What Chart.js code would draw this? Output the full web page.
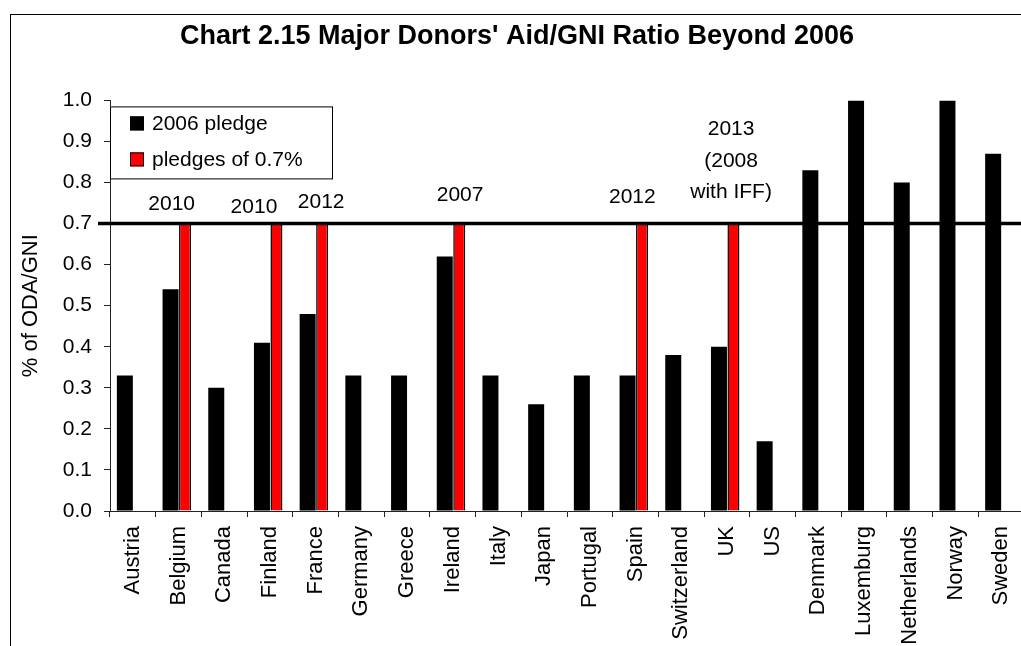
<!DOCTYPE html>
<html>
<head>
<meta charset="utf-8">
<title>Chart 2.15 Major Donors' Aid/GNI Ratio Beyond 2006</title>
<script src="https://cdn.jsdelivr.net/npm/chart.js"></script>
<style>
  html, body { margin: 0; padding: 0; background: #fff; overflow: hidden; }
  #wrap { position: relative; width: 1040px; height: 660px; }
</style>
</head>
<body>
<div id="wrap"><canvas id="chart" width="1040" height="660"></canvas></div>
<script>
// Chart data
const countries = ['Austria', 'Belgium', 'Canada', 'Finland', 'France', 'Germany', 'Greece', 'Ireland', 'Italy', 'Japan',
    'Portugal', 'Spain', 'Switzerland', 'UK', 'US', 'Denmark', 'Luxemburg', 'Netherlands', 'Norway', 'Sweden'];
const pledge2006 = [0.33, 0.54, 0.30, 0.41, 0.48, 0.33, 0.33, 0.62, 0.33, 0.26,
    0.33, 0.33, 0.38, 0.40, 0.17, 0.83, 1.00, 0.80, 1.00, 0.87];
const pledge07 = [null, 0.7, null, 0.7, 0.7, null, null, 0.7, null, null,
    null, 0.7, null, 0.7, null, null, null, null, null, null];
const yTickLabels = ['0.0', '0.1', '0.2', '0.3', '0.4', '0.5', '0.6', '0.7', '0.8', '0.9', '1.0'];
const targetRatio = 0.7;

// Year the 0.7% target is reached, per pledging country
const noteTexts = [['2010'], ['2010'], ['2012'], ['2007'], ['2012'], ['2013', '(2008', 'with IFF)']];
const noteCountries = ['Belgium', 'Finland', 'France', 'Ireland', 'Spain', 'UK'];

// Placement of the notes (category shift, value of first line)
const noteLayout = [
    { shift: -0.15, y: 0.748 },
    { shift: -0.35, y: 0.741 },
    { shift: 0.12, y: 0.751 },
    { shift: 0.16, y: 0.770 },
    { shift: -0.07, y: 0.765 },
    { shift: 0.09, y: 0.929 }
];

const FONT = '"Liberation Sans", Arial, Helvetica, sans-serif';
const AXIS_COLOR = '#222';

const whiteBackground = {
    id: 'whiteBackground',
    beforeDraw(chart) {
        const ctx = chart.ctx;
        ctx.save();
        ctx.fillStyle = '#fff';
        ctx.fillRect(0, 0, chart.width, chart.height);
        ctx.restore();
    }
};

const outerFrame = {
    id: 'outerFrame',
    afterDraw(chart) {
        const ctx = chart.ctx;
        ctx.save();
        ctx.strokeStyle = '#000';
        ctx.lineWidth = 1;
        ctx.strokeRect(10.5, 14.5, chart.width + 50, chart.height + 50);
        ctx.restore();
    }
};

const targetLine = {
    id: 'targetLine',
    afterDatasetsDraw(chart) {
        const ctx = chart.ctx;
        const y = chart.scales.y.getPixelForValue(targetRatio);
        ctx.save();
        ctx.strokeStyle = '#000';
        ctx.lineWidth = 3.5;
        ctx.beginPath();
        ctx.moveTo(chart.chartArea.left - 12, y);
        ctx.lineTo(chart.width, y);
        ctx.stroke();
        ctx.restore();
    }
};

const yearNotes = {
    id: 'yearNotes',
    afterDraw(chart) {
        const ctx = chart.ctx;
        const xs = chart.scales.x;
        const ys = chart.scales.y;
        ctx.save();
        ctx.font = '21px ' + FONT;
        ctx.fillStyle = '#000';
        ctx.textAlign = 'center';
        ctx.textBaseline = 'middle';
        noteTexts.forEach((lines, i) => {
            const idx = countries.indexOf(noteCountries[i]);
            const x = xs.getPixelForValue(idx + noteLayout[i].shift);
            let y = ys.getPixelForValue(noteLayout[i].y);
            lines.forEach(line => {
                ctx.fillText(line, x, y);
                y += 31.5;
            });
        });
        ctx.restore();
    }
};

const boxedLegend = {
    id: 'boxedLegend',
    afterDraw(chart) {
        const ctx = chart.ctx;
        const left = chart.chartArea.left;
        const top = chart.chartArea.top + 6;
        ctx.save();
        ctx.fillStyle = '#fff';
        ctx.fillRect(left, top, 222, 72);
        ctx.strokeStyle = '#000';
        ctx.lineWidth = 1;
        ctx.strokeRect(left + 0.5, top + 0.5, 222, 72);
        ctx.font = '21px ' + FONT;
        ctx.textBaseline = 'middle';
        ctx.textAlign = 'left';
        chart.data.datasets.forEach((ds, i) => {
            const cy = top + 17 + i * 36;
            ctx.fillStyle = ds.backgroundColor;
            ctx.fillRect(left + 20, cy - 7, 14, 14);
            ctx.strokeStyle = '#000';
            ctx.strokeRect(left + 20.5, cy - 6.5, 13, 13);
            ctx.fillStyle = '#000';
            ctx.fillText(ds.label, left + 42, cy + 1);
        });
        ctx.restore();
    }
};

new Chart(document.getElementById('chart'), {
    type: 'bar',
    data: {
        labels: countries,
        datasets: [
            {
                label: '2006 pledge',
                data: pledge2006,
                backgroundColor: '#000',
                borderWidth: 0,
                categoryPercentage: 0.70,
                barPercentage: 1.0
            },
            {
                label: 'pledges of 0.7%',
                data: pledge07,
                backgroundColor: '#ff0000',
                borderColor: '#000',
                borderWidth: 1.5,
                categoryPercentage: 0.569,
                barPercentage: 0.923
            }
        ]
    },
    options: {
        responsive: false,
        animation: false,
        devicePixelRatio: 1,
        layout: { padding: { left: 10, right: 16, top: 0, bottom: 0 } },
        plugins: {
            legend: { display: false },
            tooltip: { enabled: false },
            title: {
                display: true,
                text: "Chart 2.15 Major Donors' Aid/GNI Ratio Beyond 2006",
                color: '#000',
                font: { family: FONT, size: 27, weight: 'bold' },
                padding: { top: 20, bottom: 48 }
            }
        },
        scales: {
            x: {
                offset: true,
                grid: { display: true, offset: true, drawOnChartArea: false, drawTicks: true, tickLength: 6, color: AXIS_COLOR },
                border: { display: true, color: AXIS_COLOR, width: 1 },
                ticks: {
                    autoSkip: false,
                    maxRotation: 90,
                    minRotation: 90,
                    padding: 9,
                    color: '#000',
                    font: { family: FONT, size: 22 }
                },
                afterFit(scale) { scale.height = 149; }
            },
            y: {
                min: 0,
                max: 1,
                ticks: {
                    stepSize: 0.1,
                    padding: 12,
                    color: '#000',
                    font: { family: FONT, size: 21 },
                    callback: (v, i) => yTickLabels[i]
                },
                grid: { display: true, drawOnChartArea: false, drawTicks: true, tickLength: 6, color: AXIS_COLOR },
                border: { display: true, color: AXIS_COLOR, width: 1 },
                title: {
                    display: true,
                    text: '% of ODA/GNI',
                    color: '#000',
                    font: { family: FONT, size: 22 },
                    padding: { top: 8, bottom: 0 }
                },
                afterFit(scale) { scale.width = 100; }
            }
        }
    },
    plugins: [whiteBackground, targetLine, yearNotes, boxedLegend, outerFrame]
});
</script>
</body>
</html>
